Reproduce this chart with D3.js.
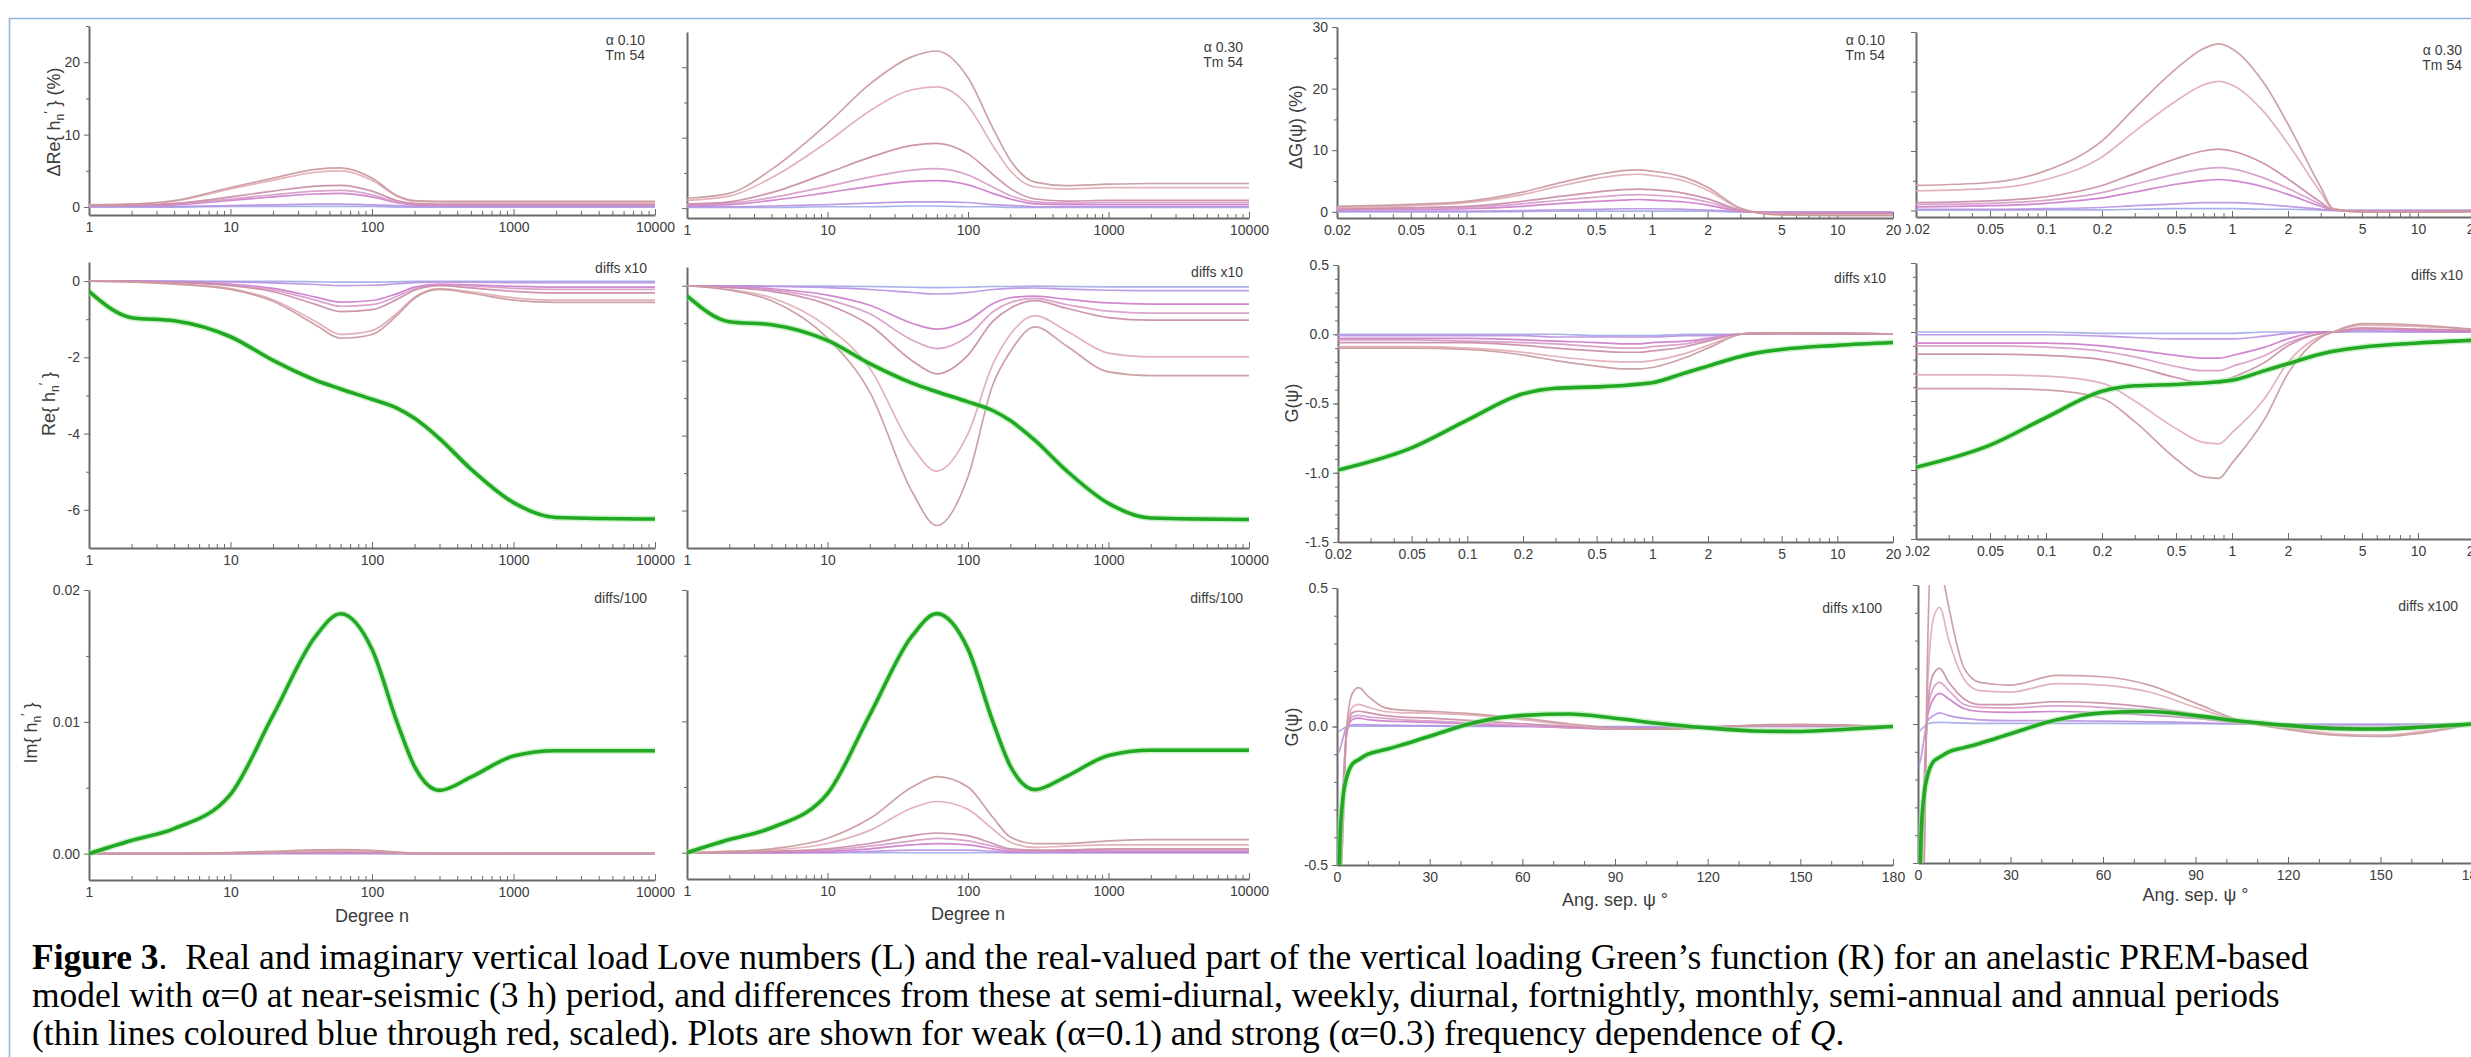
<!DOCTYPE html>
<html>
<head>
<meta charset="utf-8">
<script src="https://cdn.jsdelivr.net/npm/d3@7"></script>
<style>
  body { margin: 0; background: #fff; }
  svg { display: block; }
  text { font-family: "Liberation Sans", Arial, sans-serif; fill: #3c3c3c; }
  .caption text { font-family: "Liberation Serif", "Times New Roman", serif; fill: #000; white-space: pre; }
  .axis path, .axis line { stroke: #6a6a6a; }
  .axis path { stroke-width: 2; }
</style>
</head>
<body>
<svg id="fig" width="2471" height="1057"></svg>
<script>
// x samples
var degN = [1, 2, 4, 10, 20, 40, 60, 100, 150, 200, 300, 500, 1000, 2000, 10000];
var psiLog = [0.02, 0.05, 0.1, 0.2, 0.3, 0.5, 0.7, 0.85, 1, 1.5, 2, 3, 3.5, 5, 10, 20];
var psiLin = [0.3, 1, 2, 3, 5, 7, 10, 15, 20, 30, 45, 60, 75, 90, 105, 120, 135, 150, 165, 180];

// thin lines, largest (annual) first down to semi-diurnal
var periods = ['annual', 'semi-annual', 'monthly', 'fortnightly', 'weekly', 'diurnal', 'semi-diurnal'];
var periodColors = ['#c8979b', '#e0aab4', '#c98aa8', '#d69ac6', '#cc7acb', '#b890e0', '#a2aae8'];

// green: alpha=0, near-seismic period
var reBase = [-0.27, -0.96, -1.04, -1.46, -2.08, -2.6, -2.83, -3.1, -3.33, -3.6, -4.13, -4.93, -5.81, -6.2, -6.24];
var imBase = [0, 0.001, 0.0019, 0.0045, 0.0105, 0.0165, 0.0182, 0.0155, 0.010, 0.0066, 0.0048, 0.0058, 0.0074, 0.0078, 0.0078];
var gBase = [-0.98, -0.82, -0.62, -0.43, -0.39, -0.38, -0.37, -0.36, -0.35, -0.28, -0.23, -0.16, -0.14, -0.11, -0.08, -0.06];
var gLinBase = [-0.7, -0.4, -0.25, -0.19, -0.135, -0.12, -0.1, -0.085, -0.07, -0.035, 0.015, 0.04, 0.045, 0.03, 0.01, -0.005, -0.016, -0.018, -0.01, 0];

// delta Re{h'} (%)
var dReA10 = [
  [0.3, 0.4, 0.9, 2.7, 4.0, 5.2, 5.4, 4.0, 1.6, 0.9, 0.8, 0.8, 0.8, 0.8, 0.8],
  [0.3, 0.4, 0.8, 2.5, 3.7, 4.8, 5.0, 3.7, 1.5, 0.8, 0.7, 0.6, 0.6, 0.6, 0.6],
  [0.2, 0.3, 0.5, 1.4, 2.2, 2.9, 3.0, 2.2, 0.9, 0.5, 0.4, 0.4, 0.4, 0.4, 0.4],
  [0.2, 0.2, 0.4, 1.1, 1.7, 2.2, 2.3, 1.7, 0.7, 0.4, 0.3, 0.3, 0.3, 0.3, 0.3],
  [0.1, 0.2, 0.3, 0.9, 1.4, 1.8, 1.9, 1.4, 0.6, 0.3, 0.2, 0.2, 0.2, 0.2, 0.2],
  [0.1, 0.1, 0.1, 0.2, 0.3, 0.4, 0.4, 0.3, 0.2, 0.1, 0.1, 0.1, 0.1, 0.1, 0.1],
  [0.0, 0.0, 0.0, 0.1, 0.1, 0.1, 0.1, 0.1, 0.0, 0.0, 0.0, 0.0, 0.0, 0.0, 0.0]
];
var dReA30 = [
  [1.4, 2.1, 5.5, 12.0, 17.6, 21.5, 22.3, 18.5, 11.4, 6.8, 3.7, 3.2, 3.4, 3.5, 3.5],
  [1.1, 1.7, 4.3, 9.4, 13.8, 16.8, 17.2, 14.5, 8.9, 5.3, 3.0, 2.7, 2.9, 2.9, 2.9],
  [0.6, 0.9, 2.2, 5.0, 7.2, 8.9, 9.2, 7.7, 4.8, 2.8, 1.3, 1.0, 1.1, 1.1, 1.1],
  [0.5, 0.7, 1.5, 3.1, 4.4, 5.4, 5.6, 4.7, 3.0, 1.8, 0.9, 0.7, 0.8, 0.8, 0.8],
  [0.4, 0.5, 1.1, 2.2, 3.1, 3.8, 3.9, 3.3, 2.1, 1.3, 0.6, 0.5, 0.5, 0.5, 0.5],
  [0.2, 0.2, 0.3, 0.5, 0.7, 0.9, 0.9, 0.8, 0.5, 0.4, 0.2, 0.2, 0.2, 0.2, 0.2],
  [0.1, 0.1, 0.1, 0.2, 0.2, 0.3, 0.3, 0.2, 0.2, 0.1, 0.1, 0.1, 0.1, 0.1, 0.1]
];

// Re{h'} diffs x10
var reDiffA10 = [
  [0, -0.02, -0.08, -0.22, -0.53, -1.15, -1.5, -1.4, -0.9, -0.45, -0.22, -0.32, -0.5, -0.56, -0.56],
  [0, -0.02, -0.07, -0.2, -0.49, -1.06, -1.4, -1.3, -0.84, -0.42, -0.2, -0.28, -0.44, -0.5, -0.5],
  [0, -0.01, -0.04, -0.12, -0.28, -0.61, -0.8, -0.75, -0.48, -0.24, -0.12, -0.18, -0.27, -0.31, -0.31],
  [0, -0.01, -0.03, -0.1, -0.23, -0.5, -0.66, -0.62, -0.4, -0.2, -0.1, -0.13, -0.19, -0.22, -0.22],
  [0, 0, -0.02, -0.08, -0.19, -0.42, -0.55, -0.51, -0.33, -0.16, -0.08, -0.1, -0.14, -0.16, -0.16],
  [0, 0, -0.01, -0.02, -0.05, -0.09, -0.12, -0.11, -0.07, -0.04, -0.02, -0.03, -0.04, -0.04, -0.04],
  [0, 0, 0, -0.01, -0.01, -0.02, -0.03, -0.03, -0.02, -0.01, -0.01, -0.01, -0.01, -0.01, -0.01]
];
var reDiffA30 = [
  [0, -0.12, -0.4, -1.4, -2.84, -5.5, -6.4, -5.1, -2.65, -1.76, -1.1, -1.6, -2.3, -2.4, -2.4],
  [0, -0.1, -0.32, -1.1, -2.2, -4.3, -4.95, -3.95, -2.1, -1.3, -0.8, -1.2, -1.8, -1.9, -1.9],
  [0, -0.05, -0.15, -0.5, -1.05, -2.0, -2.35, -1.85, -0.95, -0.6, -0.4, -0.6, -0.85, -0.92, -0.92],
  [0, -0.04, -0.11, -0.37, -0.75, -1.45, -1.68, -1.35, -0.7, -0.45, -0.34, -0.5, -0.68, -0.73, -0.73],
  [0, -0.03, -0.08, -0.25, -0.52, -1.0, -1.16, -0.93, -0.48, -0.32, -0.28, -0.36, -0.46, -0.49, -0.49],
  [0, -0.01, -0.02, -0.05, -0.1, -0.18, -0.22, -0.18, -0.1, -0.07, -0.06, -0.09, -0.12, -0.13, -0.13],
  [0, 0, -0.01, -0.01, -0.02, -0.04, -0.05, -0.04, -0.02, -0.02, -0.01, -0.02, -0.03, -0.03, -0.03]
];

// Im{h'} diffs /100
var imDiffA10 = [
  [0, 0, 0.00002, 0.00008, 0.00018, 0.00028, 0.0003, 0.00025, 0.00012, 0.00005, 0.00002, 0.00002, 0.00003, 0.00003, 0.00003],
  [0, 0, 0.00002, 0.00006, 0.00014, 0.00022, 0.00024, 0.0002, 0.0001, 0.00004, 0.00002, 0.00002, 0.00002, 0.00002, 0.00002],
  [0, 0, 0.00001, 0.00003, 0.00007, 0.00011, 0.00012, 0.0001, 0.00005, 0.00002, 0.00001, 0.00001, 0.00001, 0.00001, 0.00001],
  [0, 0, 0, 0.00002, 0.00005, 0.00008, 0.00009, 0.00007, 0.00004, 0.00001, 0, 0, 0.00001, 0.00001, 0.00001],
  [0, 0, 0, 0.00002, 0.00004, 0.00006, 0.00006, 0.00005, 0.00003, 0.00001, 0, 0, 0, 0, 0],
  [0, 0, 0, 0, 0.00001, 0.00001, 0.00001, 0.00001, 0, 0, 0, 0, 0, 0, 0],
  [0, 0, 0, 0, 0, 0, 0, 0, 0, 0, 0, 0, 0, 0, 0]
];
var imDiffA30 = [
  [0, 0.0001, 0.0003, 0.0011, 0.0026, 0.0050, 0.0058, 0.0050, 0.0027, 0.0012, 0.0007, 0.0007, 0.0009, 0.001, 0.001],
  [0, 0.0001, 0.0002, 0.0007, 0.0017, 0.0034, 0.0039, 0.0033, 0.0018, 0.0008, 0.0004, 0.0005, 0.0006, 0.0006, 0.0006],
  [0, 0, 0.0001, 0.0003, 0.0007, 0.0013, 0.0015, 0.0013, 0.0007, 0.0003, 0.0002, 0.0002, 0.0003, 0.0003, 0.0003],
  [0, 0, 0.0001, 0.0002, 0.0005, 0.0009, 0.0011, 0.0009, 0.0005, 0.0002, 0.0001, 0.0002, 0.0002, 0.0002, 0.0002],
  [0, 0, 0, 0.0001, 0.0003, 0.0006, 0.0007, 0.0006, 0.0003, 0.0001, 0.0001, 0.0001, 0.0001, 0.0001, 0.0001],
  [0, 0, 0, 0, 0.0001, 0.0002, 0.0002, 0.0002, 0.0001, 0, 0, 0, 0, 0, 0],
  [0, 0, 0, 0, 0, 0, 0, 0, 0, 0, 0, 0, 0, 0, 0]
];

// delta G (%)
var dGA10 = [
  [0.9, 1.2, 1.7, 3.2, 4.5, 6.0, 6.7, 6.8, 6.6, 5.6, 4.0, 0.6, 0.0, -0.5, -0.6, -0.6],
  [0.7, 1.0, 1.5, 2.8, 4.0, 5.4, 6.0, 6.1, 5.9, 5.0, 3.5, 0.5, 0.0, -0.4, -0.5, -0.5],
  [0.5, 0.7, 0.9, 1.7, 2.4, 3.2, 3.6, 3.7, 3.6, 3.0, 2.1, 0.3, 0.0, -0.3, -0.3, -0.3],
  [0.4, 0.5, 0.7, 1.3, 1.8, 2.4, 2.7, 2.8, 2.7, 2.3, 1.6, 0.2, 0.0, -0.2, -0.2, -0.2],
  [0.3, 0.4, 0.5, 0.9, 1.3, 1.7, 1.9, 2.0, 1.9, 1.6, 1.1, 0.1, 0.0, -0.15, -0.15, -0.15],
  [0.1, 0.1, 0.1, 0.2, 0.3, 0.4, 0.5, 0.5, 0.5, 0.4, 0.3, 0.05, 0.0, -0.05, -0.05, -0.05],
  [0.0, 0.0, 0.0, 0.05, 0.1, 0.1, 0.1, 0.1, 0.1, 0.1, 0.1, 0.0, 0.0, 0.0, 0.0, 0.0]
];
var dGA30 = [
  [4.2, 4.7, 6.7, 11.7, 17.2, 23.8, 27.2, 28.0, 27.2, 21.2, 14.5, 3.9, 0.3, -0.3, -0.3, -0.2],
  [3.3, 3.7, 5.2, 9.0, 13.3, 18.4, 21.1, 21.7, 21.1, 16.4, 11.2, 3.0, 0.2, -0.3, -0.3, -0.2],
  [1.3, 1.6, 2.3, 4.2, 6.2, 8.7, 10.0, 10.3, 10.0, 7.8, 5.3, 1.4, 0.1, -0.2, -0.2, -0.1],
  [1.0, 1.2, 1.7, 3.0, 4.4, 6.1, 7.0, 7.2, 7.0, 5.4, 3.7, 1.0, 0.1, -0.1, -0.1, -0.1],
  [0.6, 0.8, 1.2, 2.1, 3.1, 4.4, 5.0, 5.2, 5.0, 3.9, 2.7, 0.7, 0.05, -0.1, -0.1, -0.1],
  [0.2, 0.2, 0.3, 0.5, 0.8, 1.1, 1.3, 1.3, 1.3, 1.0, 0.7, 0.2, 0.0, 0.0, 0.0, 0.0],
  [0.05, 0.05, 0.1, 0.1, 0.2, 0.3, 0.3, 0.3, 0.3, 0.2, 0.2, 0.05, 0.0, 0.0, 0.0, 0.0]
];

// G diffs x10 (log psi)
var gDiffA10 = [
  [-0.1, -0.1, -0.11, -0.15, -0.19, -0.23, -0.25, -0.25, -0.24, -0.17, -0.1, 0, 0.01, 0.01, 0.01, 0],
  [-0.09, -0.09, -0.1, -0.13, -0.16, -0.19, -0.2, -0.2, -0.19, -0.14, -0.08, 0, 0.01, 0.01, 0.01, 0],
  [-0.06, -0.06, -0.06, -0.08, -0.1, -0.12, -0.13, -0.13, -0.12, -0.09, -0.05, 0, 0, 0.01, 0, 0],
  [-0.04, -0.04, -0.05, -0.06, -0.07, -0.09, -0.1, -0.1, -0.09, -0.07, -0.04, 0, 0, 0, 0, 0],
  [-0.03, -0.03, -0.03, -0.04, -0.05, -0.06, -0.07, -0.07, -0.06, -0.05, -0.03, 0, 0, 0, 0, 0],
  [-0.01, -0.01, -0.01, -0.01, -0.02, -0.02, -0.02, -0.02, -0.02, -0.01, -0.01, 0, 0, 0, 0, 0],
  [0, 0, 0, 0, 0, -0.01, -0.01, -0.01, -0.01, 0, 0, 0, 0, 0, 0, 0]
];
var gDiffA30 = [
  [-0.41, -0.41, -0.42, -0.48, -0.65, -0.92, -1.05, -1.06, -0.95, -0.63, -0.3, -0.04, 0, 0.06, 0.05, 0.02],
  [-0.31, -0.31, -0.32, -0.37, -0.5, -0.7, -0.8, -0.81, -0.73, -0.48, -0.22, -0.03, 0, 0.05, 0.04, 0.02],
  [-0.16, -0.16, -0.17, -0.2, -0.25, -0.33, -0.37, -0.37, -0.33, -0.22, -0.1, -0.01, 0, 0.03, 0.02, 0.01],
  [-0.1, -0.1, -0.11, -0.14, -0.18, -0.25, -0.28, -0.28, -0.25, -0.17, -0.08, -0.01, 0, 0.02, 0.02, 0.01],
  [-0.08, -0.08, -0.08, -0.1, -0.13, -0.17, -0.19, -0.19, -0.17, -0.11, -0.05, 0, 0, 0.02, 0.01, 0],
  [-0.02, -0.02, -0.02, -0.03, -0.04, -0.05, -0.05, -0.05, -0.05, -0.03, -0.01, 0, 0, 0.01, 0, 0],
  [0, 0, 0, -0.01, -0.01, -0.01, -0.01, -0.01, -0.01, 0, 0, 0, 0, 0, 0, 0]
];

// G diffs x100 (linear psi)
var gLinDiffA10 = [
  [-0.7, -0.6, -0.35, -0.02, 0.12, 0.14, 0.11, 0.07, 0.06, 0.055, 0.045, 0.03, 0.01, -0.005, -0.01, -0.005, 0.005, 0.008, 0.005, 0],
  [-0.7, -0.6, -0.35, -0.03, 0.07, 0.08, 0.07, 0.055, 0.05, 0.048, 0.04, 0.025, 0.005, -0.008, -0.01, -0.005, 0.004, 0.006, 0.004, 0],
  [-0.6, -0.5, -0.3, -0.04, 0.05, 0.055, 0.05, 0.04, 0.035, 0.03, 0.02, 0.01, 0, -0.01, -0.01, -0.003, 0.003, 0.004, 0.003, 0],
  [-0.5, -0.45, -0.25, -0.04, 0.035, 0.04, 0.035, 0.03, 0.025, 0.02, 0.012, 0.003, -0.005, -0.01, -0.008, -0.002, 0.002, 0.003, 0.002, 0],
  [-0.45, -0.4, -0.2, -0.03, 0.025, 0.03, 0.025, 0.02, 0.018, 0.015, 0.008, 0.002, -0.004, -0.008, -0.006, -0.002, 0.002, 0.002, 0.001, 0],
  [-0.1, -0.08, -0.04, -0.005, 0.006, 0.007, 0.006, 0.005, 0.004, 0.003, 0.002, 0, -0.001, -0.002, -0.002, 0, 0, 0, 0, 0],
  [-0.02, -0.015, -0.008, -0.001, 0.001, 0.001, 0.001, 0.001, 0.001, 0.001, 0, 0, 0, 0, 0, 0, 0, 0, 0, 0]
];
var gLinDiffA30 = [
  [-0.7, -0.6, -0.5, 0.2, 0.75, 0.6, 0.42, 0.2, 0.15, 0.14, 0.175, 0.17, 0.14, 0.075, 0.01, -0.02, -0.04, -0.045, -0.03, 0],
  [-0.7, -0.6, -0.45, 0.1, 0.38, 0.42, 0.3, 0.16, 0.12, 0.115, 0.145, 0.14, 0.115, 0.06, 0.008, -0.015, -0.035, -0.04, -0.025, 0],
  [-0.6, -0.5, -0.3, 0.05, 0.18, 0.2, 0.15, 0.09, 0.07, 0.07, 0.08, 0.075, 0.06, 0.035, 0.005, -0.01, -0.02, -0.02, -0.015, 0],
  [-0.6, -0.5, -0.25, 0.03, 0.13, 0.15, 0.12, 0.07, 0.06, 0.058, 0.065, 0.06, 0.048, 0.028, 0.004, -0.008, -0.015, -0.016, -0.012, 0],
  [-0.5, -0.4, -0.2, 0.02, 0.09, 0.11, 0.09, 0.055, 0.045, 0.042, 0.045, 0.04, 0.032, 0.02, 0.003, -0.006, -0.01, -0.012, -0.008, 0],
  [-0.15, -0.12, -0.05, 0.01, 0.03, 0.04, 0.03, 0.02, 0.015, 0.012, 0.012, 0.01, 0.008, 0.005, 0, -0.002, -0.003, -0.003, -0.002, 0],
  [-0.03, -0.02, -0.01, 0, 0.005, 0.006, 0.005, 0.003, 0.002, 0.002, 0.002, 0.002, 0.001, 0.001, 0, 0, 0, 0, 0, 0]
];

// tick labels
var degTicks = [1, 10, 100, 1000, 10000];
var psiLogTicks = [0.02, 0.05, 0.1, 0.2, 0.5, 1, 2, 5, 10, 20];
var psiLinTicks = [0, 30, 60, 90, 120, 150, 180];

var svg = d3.select('#fig');
var defs = svg.append('defs');

// figure frame
svg.append('rect')
  .attr('x', 9.5).attr('y', 18.5)
  .attr('width', 2500).attr('height', 1100)
  .attr('fill', 'none').attr('stroke', '#8fb4e0').attr('stroke-width', 1.5);

function logMinor(lo, hi, major) {
  var out = [];
  for (var e = -3; e <= 4; e++) {
    for (var k = 1; k < 10; k++) {
      var v = +(k * Math.pow(10, e)).toPrecision(3);
      if (v >= lo && v <= hi && major.indexOf(v) < 0) out.push(v);
    }
  }
  return out;
}

function hLabel(t, pre) {
  // "Re{ h_n' }" style label
  t.append('tspan').text(pre + '{ h');
  t.append('tspan').attr('font-size', '12px').attr('dy', 4).text('n');
  t.append('tspan').attr('font-size', '13px').attr('dy', -11).text('\u2032');
  t.append('tspan').attr('dy', 7).text(' }');
}

function panel(o) {
  var g = svg.append('g').attr('clip-path', 'url(#frame-' + o.id + ')');
  defs.append('clipPath').attr('id', 'frame-' + o.id).append('rect')
    .attr('x', o.frame[0]).attr('y', o.frame[1])
    .attr('width', o.frame[2] - o.frame[0]).attr('height', o.frame[3] - o.frame[1]);
  defs.append('clipPath').attr('id', 'plot-' + o.id).append('rect')
    .attr('x', o.xr[0]).attr('y', o.yr[1])
    .attr('width', o.xr[1] - o.xr[0] + 2).attr('height', o.yr[0] - o.yr[1]);

  var x = (o.log ? d3.scaleLog() : d3.scaleLinear()).domain(o.xd).range(o.xr);
  var y = d3.scaleLinear().domain(o.yd).range(o.yr);

  // x axis, ticks pointing in
  var xa = g.append('g').attr('class', 'axis').attr('transform', 'translate(0,' + o.yr[0] + ')');
  xa.call(d3.axisBottom(x).tickValues(o.xt).tickFormat(function(d) { return String(d); })
    .tickSize(-6).tickSizeOuter(0).tickPadding(7));
  xa.append('g').call(d3.axisBottom(x).tickValues(o.xm).tickFormat('').tickSize(-4).tickSizeOuter(0))
    .select('.domain').remove();
  xa.selectAll('text').attr('font-size', '14px').attr('fill', '#3c3c3c');

  // y axis
  var ya = g.append('g').attr('class', 'axis').attr('transform', 'translate(' + o.xr[0] + ',0)');
  ya.call(d3.axisLeft(y).tickValues(o.yt).tickFormat(o.ylab ? o.yf : '')
    .tickSize(5).tickSizeOuter(0).tickPadding(4));
  ya.append('g').call(d3.axisLeft(y).tickValues(o.ym).tickFormat('').tickSize(3).tickSizeOuter(0))
    .select('.domain').remove();
  ya.selectAll('text').attr('font-size', '14px').attr('fill', '#3c3c3c');

  // curves
  var plot = g.append('g').attr('clip-path', 'url(#plot-' + o.id + ')');
  var line = d3.line()
    .x(function(d, i) { return x(o.xs[i]); })
    .y(function(d) { return y(d); })
    .curve(d3.curveMonotoneX);

  plot.selectAll('path.thin')
    .data(o.thin.slice().reverse())
    .enter().append('path')
    .attr('class', 'thin')
    .attr('d', line)
    .attr('fill', 'none')
    .attr('stroke', function(d, i) { return periodColors[periodColors.length - 1 - i]; })
    .attr('stroke-width', 1.7)
    .attr('opacity', 0.9);

  if (o.base) {
    plot.append('path')
      .attr('d', line(o.base))
      .attr('fill', 'none')
      .attr('stroke', '#9be89b')
      .attr('stroke-width', 6.5)
      .attr('opacity', 0.5);
    plot.append('path')
      .attr('d', line(o.base))
      .attr('fill', 'none')
      .attr('stroke', '#22a822')
      .attr('stroke-width', 3.6);
  }

  // annotation top right
  var note = g.append('text')
    .attr('text-anchor', 'end')
    .attr('font-size', '14px')
    .attr('fill', '#333');
  o.note.forEach(function(s, i) {
    note.append('tspan').attr('x', o.noteX).attr('y', o.noteY + i * 15).text(s);
  });

  // y title
  if (o.ytitle) {
    var t = g.append('text')
      .attr('transform', 'translate(' + o.ytx + ',' + o.yty + ') rotate(-90)')
      .attr('text-anchor', 'middle')
      .attr('font-size', '18px')
      .attr('fill', '#3c3c3c');
    o.ytitle(t);
  }

  // x title
  if (o.xtitle) {
    g.append('text')
      .attr('x', (o.xr[0] + o.xr[1]) / 2).attr('y', o.xty)
      .attr('text-anchor', 'middle')
      .attr('font-size', '18px')
      .attr('fill', '#3c3c3c')
      .text(o.xtitle);
  }
}

var degMinor = logMinor(1, 10000, degTicks);
var psiMinor = logMinor(0.02, 20, psiLogTicks);
var linMinor = d3.range(10, 180, 10).filter(function(v) { return v % 30 !== 0; });
var fInt = function(d) { return String(d); };
var f1 = function(d) { return d.toFixed(1); };
var f2 = function(d) { return d.toFixed(2); };
var tenths = function(a, b) { return d3.range(a, b + 1).map(function(v) { return v / 10; }); };

var rows = [
  // row 1
  {id: 'p1', frame: [10, 18, 677, 246], log: true, xd: [1, 10000], xr: [89, 655], yd: [-1.1, 25], yr: [215, 26],
   xs: degN, xt: degTicks, xm: degMinor, yt: [0, 10, 20], ym: [5, 15, 25], ylab: true, yf: fInt,
   thin: dReA10, note: ['\u03b1 0.10', 'Tm 54'], noteX: 645, noteY: 45,
   ytitle: function(t) { hLabel(t, '\u0394Re'); t.append('tspan').text('  (%)'); }, ytx: 60, yty: 122},
  {id: 'p2', frame: [677, 18, 1285, 246], log: true, xd: [1, 10000], xr: [687, 1249], yd: [-1.4, 25], yr: [218, 32],
   xs: degN, xt: degTicks, xm: degMinor, yt: [0, 10, 20], ym: [5, 15], ylab: false,
   thin: dReA30, note: ['\u03b1 0.30', 'Tm 54'], noteX: 1243, noteY: 52},
  {id: 'p3', frame: [1285, 18, 1906, 246], log: true, xd: [0.02, 20], xr: [1337, 1893], yd: [-1, 30], yr: [218, 27],
   xs: psiLog, xt: psiLogTicks, xm: psiMinor, yt: [0, 10, 20, 30], ym: [5, 15, 25], ylab: true, yf: fInt,
   thin: dGA10, note: ['\u03b1 0.10', 'Tm 54'], noteX: 1885, noteY: 45,
   ytitle: function(t) { t.text('\u0394G(\u03c8)  (%)'); }, ytx: 1302, yty: 127},
  {id: 'p4', frame: [1906, 18, 2480, 246], log: true, xd: [0.02, 20], xr: [1916, 2474], yd: [-1.1, 30], yr: [217, 32],
   xs: psiLog, xt: psiLogTicks, xm: psiMinor, yt: [0, 10, 20, 30], ym: [5, 15, 25], ylab: false,
   thin: dGA30, note: ['\u03b1 0.30', 'Tm 54'], noteX: 2462, noteY: 55},
  // row 2
  {id: 'p5', frame: [10, 246, 677, 566], log: true, xd: [1, 10000], xr: [89, 655], yd: [-7, 0.5], yr: [548, 262],
   xs: degN, xt: degTicks, xm: degMinor, yt: [0, -2, -4, -6], ym: [-1, -3, -5], ylab: true, yf: fInt,
   thin: reDiffA10, base: reBase, note: ['diffs x10'], noteX: 647, noteY: 273,
   ytitle: function(t) { hLabel(t, 'Re'); }, ytx: 55, yty: 404},
  {id: 'p6', frame: [677, 246, 1285, 566], log: true, xd: [1, 10000], xr: [687, 1249], yd: [-7, 0.5], yr: [548, 267],
   xs: degN, xt: degTicks, xm: degMinor, yt: [0, -2, -4, -6], ym: [-1, -3, -5], ylab: false,
   thin: reDiffA30, base: reBase, note: ['diffs x10'], noteX: 1243, noteY: 277},
  {id: 'p7', frame: [1285, 246, 1906, 566], log: true, xd: [0.02, 20], xr: [1338, 1893], yd: [-1.5, 0.5], yr: [542, 265],
   xs: psiLog, xt: psiLogTicks, xm: psiMinor, yt: [0.5, 0, -0.5, -1, -1.5], ym: tenths(-14, 4), ylab: true, yf: f1,
   thin: gDiffA10, base: gBase, note: ['diffs x10'], noteX: 1886, noteY: 283,
   ytitle: function(t) { t.text('G(\u03c8)'); }, ytx: 1298, yty: 403},
  {id: 'p8', frame: [1906, 246, 2480, 566], log: true, xd: [0.02, 20], xr: [1916, 2474], yd: [-1.5, 0.5], yr: [539, 263],
   xs: psiLog, xt: psiLogTicks, xm: psiMinor, yt: [0.5, 0, -0.5, -1, -1.5], ym: tenths(-14, 4), ylab: false,
   thin: gDiffA30, base: gBase, note: ['diffs x10'], noteX: 2463, noteY: 280},
  // row 3
  {id: 'p9', frame: [10, 566, 677, 932], log: true, xd: [1, 10000], xr: [89, 655], yd: [-0.002, 0.02], yr: [880, 590],
   xs: degN, xt: degTicks, xm: degMinor, yt: [0, 0.01, 0.02], ym: [0.005, 0.015], ylab: true, yf: f2,
   thin: imDiffA10, base: imBase, note: ['diffs/100'], noteX: 647, noteY: 603,
   ytitle: function(t) { hLabel(t, 'Im'); }, ytx: 37, yty: 733, xtitle: 'Degree n', xty: 922},
  {id: 'p10', frame: [677, 566, 1285, 932], log: true, xd: [1, 10000], xr: [687, 1249], yd: [-0.002, 0.02], yr: [879, 590],
   xs: degN, xt: degTicks, xm: degMinor, yt: [0, 0.01, 0.02], ym: [0.005, 0.015], ylab: false,
   thin: imDiffA30, base: imBase, note: ['diffs/100'], noteX: 1243, noteY: 603, xtitle: 'Degree n', xty: 920},
  {id: 'p11', frame: [1285, 566, 1906, 932], log: false, xd: [0, 180], xr: [1337, 1893], yd: [-0.5, 0.5], yr: [865, 588],
   xs: psiLin, xt: psiLinTicks, xm: linMinor, yt: [0.5, 0, -0.5], ym: tenths(-4, 4), ylab: true, yf: f1,
   thin: gLinDiffA10, base: gLinBase, note: ['diffs x100'], noteX: 1882, noteY: 613,
   ytitle: function(t) { t.text('G(\u03c8)'); }, ytx: 1298, yty: 727, xtitle: 'Ang. sep. \u03c8 \u00b0', xty: 906},
  {id: 'p12', frame: [1906, 566, 2480, 932], log: false, xd: [0, 180], xr: [1918, 2473], yd: [-0.5, 0.5], yr: [863, 585],
   xs: psiLin, xt: psiLinTicks, xm: linMinor, yt: [0.5, 0, -0.5], ym: tenths(-4, 4), ylab: false,
   thin: gLinDiffA30, base: gLinBase, note: ['diffs x100'], noteX: 2458, noteY: 611, xtitle: 'Ang. sep. \u03c8 \u00b0', xty: 901}
];

rows.forEach(panel);

// caption
var cap = svg.append('g').attr('class', 'caption');
var capLines = [
  [{b: 'Figure 3'}, {t: '.  Real and imaginary vertical load Love numbers (L) and the real-valued part of the vertical loading Green\u2019s function (R) for an anelastic PREM-based'}],
  [{t: 'model with \u03b1=0 at near-seismic (3 h) period, and differences from these at semi-diurnal, weekly, diurnal, fortnightly, monthly, semi-annual and annual periods'}],
  [{t: '(thin lines coloured blue through red, scaled). Plots are shown for weak (\u03b1=0.1) and strong (\u03b1=0.3) frequency dependence of '}, {i: 'Q'}, {t: '.'}]
];
capLines.forEach(function(parts, i) {
  var t = cap.append('text').attr('x', 32).attr('y', 969 + i * 38).attr('font-size', '35.5px');
  parts.forEach(function(p) {
    var s = t.append('tspan');
    if (p.b) s.attr('font-weight', 'bold').text(p.b);
    else if (p.i) s.attr('font-style', 'italic').text(p.i);
    else s.text(p.t);
  });
});
</script>
</body>
</html>
